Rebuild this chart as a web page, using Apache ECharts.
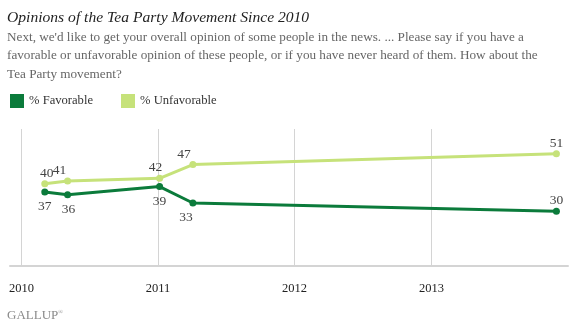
<!DOCTYPE html>
<html>
<head>
<meta charset="utf-8">
<script src="https://cdn.jsdelivr.net/npm/echarts@6/dist/echarts.min.js"></script>
<style>html,body{margin:0;padding:0;background:#fff}#c{width:574px;height:327px}</style>
</head>
<body>
<div id="c"></div>
<script>
var dates = ['2010-03-04', '2010-05-04', '2011-01-05', '2011-04-04', '2013-12-01'];
var favorable = [37, 36, 39, 33, 30];
var unfavorable = [40, 41, 42, 47, 51];
var yearTicks = ['2010', '2011', '2012', '2013'];
var titleText = 'Opinions of the Tea Party Movement Since 2010';
var subText = "Next, we'd like to get your overall opinion of some people in the news. ... Please say if you have a\nfavorable or unfavorable opinion of these people, or if you have never heard of them. How about the\nTea Party movement?";

var FAV = '#0b7b3b', UNF = '#c6e27a';

var favOffsets = [[0,0],[1,0],[0,0],[-7,0],[0,-25]];
var unfOffsets = [[2,0],[-8,0],[-4,0],[-9,0],[0,0]];

function buildData(vals, offs) {
  return vals.map(function (v, i) {
    return { value: [dates[i], v], label: { offset: offs[i] } };
  });
}

var chart = echarts.init(document.getElementById('c'), null, {renderer: 'canvas'});
chart.setOption({
  animation: false,
  backgroundColor: '#fff',
  title: [
    { text: titleText, left: 2, top: 5,
      textStyle: { fontFamily: 'Liberation Serif', fontStyle: 'italic', fontWeight: 'normal', fontSize: 15.6, color: '#222' } },
    { text: subText, left: 2, top: 23,
      textStyle: { fontFamily: 'Liberation Serif', fontWeight: 'normal', fontSize: 13.2, color: '#666', lineHeight: 18.5 } },
    { text: 'GALLUP{r|®}', left: 2, top: 304,
      textStyle: { fontFamily: 'Liberation Serif', fontWeight: 'normal', fontSize: 13, color: '#8a8a8a',
        rich: { r: { fontSize: 6, verticalAlign: 'top', color: '#8a8a8a', padding: [0,0,6,0] } } } }
  ],
  legend: {
    left: 10, top: 94, padding: 0, icon: 'rect', itemWidth: 14, itemHeight: 14, itemGap: 28,
    textStyle: { fontFamily: 'Liberation Serif', fontSize: 12.6, color: '#333' },
    data: ['% Favorable', '% Unfavorable']
  },
  grid: { left: 10, right: 6, top: 129, bottom: 61 },
  xAxis: {
    type: 'time', min: '2009-12-01', max: '2014-01-01', splitNumber: 4,
    axisLine: { show: true, lineStyle: { color: '#d4d4d4', width: 2 } },
    axisTick: { show: false },
    axisLabel: { formatter: function (v) { var y = new Date(v).getFullYear(); return yearTicks.indexOf(String(y)) >= 0 ? String(y) : ''; },
      showMinLabel: false, showMaxLabel: false,
      fontFamily: 'Liberation Serif', fontSize: 12.5, color: '#222', margin: 16 },
    splitLine: { show: true, showMinLine: false, showMaxLine: false, lineStyle: { color: '#d4d4d4', width: 1 } }
  },
  yAxis: { type: 'value', min: 10, max: 60, show: false, splitLine: { show: false } },
  series: [
    { name: '% Favorable', type: 'line', data: buildData(favorable, favOffsets),
      color: FAV, lineStyle: { width: 3, color: FAV }, itemStyle: { color: FAV },
      symbol: 'circle', symbolSize: 7, z: 3,
      label: { show: true, position: 'bottom', distance: 4, fontFamily: 'Liberation Serif', fontSize: 13.5, color: '#444' } },
    { name: '% Unfavorable', type: 'line', data: buildData(unfavorable, unfOffsets),
      color: UNF, lineStyle: { width: 3, color: UNF }, itemStyle: { color: UNF },
      symbol: 'circle', symbolSize: 7, z: 2,
      label: { show: true, position: 'top', distance: 0, fontFamily: 'Liberation Serif', fontSize: 13.5, color: '#444' } }
  ]
});
</script>
</body>
</html>
